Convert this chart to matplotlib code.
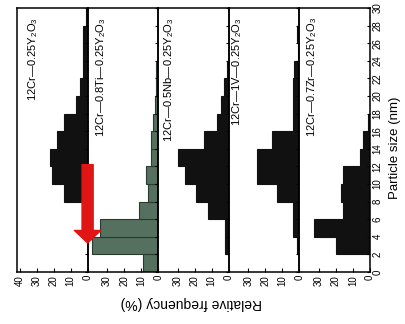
import matplotlib
matplotlib.use('Agg')
import matplotlib.pyplot as plt

# ---------------- data ----------------
size_bins = [0, 2, 4, 6, 8, 10, 12, 14, 16, 18, 20, 22, 24, 26, 28]   # lower bin edges (nm)
bin_width = 2
panel_labels = [r'12Cr—0.25Y$_2$O$_3$',
                r'12Cr—0.8Ti—0.25Y$_2$O$_3$',
                r'12Cr—0.5Nb—0.25Y$_2$O$_3$',
                r'12Cr—1V—0.25Y$_2$O$_3$',
                r'12Cr—0.7Zr—0.25Y$_2$O$_3$']
freq_y2o3 = [0, 0, 0, 0, 14, 21, 22, 18, 14, 7, 4.7, 2.5, 2.5, 2.5, 1]
freq_ti   = [9, 39, 34, 11, 6, 7, 4, 4, 3, 2, 1.5, 1, 0, 0, 0]
freq_nb   = [0, 2.4, 2.4, 12, 19, 26, 30, 14.7, 7, 4.7, 3, 1.2, 0, 0, 0]
freq_v    = [0, 1.5, 4, 4, 13, 25, 25, 16, 4, 4, 4, 3, 1, 1.5, 0]
freq_zr   = [0, 20, 33, 16, 17, 16, 6, 4, 1, 0, 0, 0, 0, 0, 0]
panel_freqs = [freq_y2o3, freq_ti, freq_nb, freq_v, freq_zr]
panel_colors = ['#111111', '#56705f', '#111111', '#111111', '#111111']
panel_edges = ['#111111', '#2a3a30', '#111111', '#111111', '#111111']
freq_ticks_first = [40, 30, 20, 10, 0]
freq_ticks_other = [30, 20, 10, 0]
size_ticks = list(range(0, 31, 2))
arrow_start_size = 12.2
arrow_end_size = 3.3

# ---------------- figure ----------------
plt.rcParams['font.family'] = ['Liberation Sans', 'DejaVu Sans']
plt.rcParams['mathtext.fontset'] = 'custom'
plt.rcParams['mathtext.rm'] = 'Liberation Sans'
plt.rcParams['mathtext.it'] = 'Liberation Sans:italic'
W, H = 406, 324
fig = plt.figure(figsize=(W / 100, H / 100), dpi=100)
left_px, right_px, top_px, bottom_px = 17, 370, 8, 272
axes = fig.subplots(1, 5, sharey=True, gridspec_kw={'wspace': 0})
fig.subplots_adjust(left=left_px / W, right=right_px / W,
                    top=1 - top_px / H, bottom=1 - bottom_px / H)

label_xfrac = [0.23, 0.19, 0.15, 0.12, 0.18]

for i, ax in enumerate(axes):
    ax.patch.set_visible(False)
    ax.barh(size_bins, panel_freqs[i], height=bin_width, align='edge',
            color=panel_colors[i], edgecolor=panel_edges[i], linewidth=0.8)
    ax.set_xlim(41.5, 0)
    ax.set_ylim(0, 30)
    ticks = freq_ticks_first if i == 0 else freq_ticks_other
    ax.set_xticks(ticks)
    ax.set_xticklabels([str(t) for t in ticks], rotation=90, fontsize=7)
    ax.tick_params(axis='x', direction='in', length=3, width=0.8, pad=2)
    ax.yaxis.tick_right()
    ax.set_yticks(size_ticks)
    ax.tick_params(axis='y', direction='in', length=2.5, width=0.8,
                   labelright=(i == 4), labelleft=False, pad=2)
    for s in ax.spines.values():
        s.set_linewidth(1.1)
    ax.text(label_xfrac[i], 0.965, panel_labels[i], rotation=90,
            ha='center', va='top', fontsize=8, transform=ax.transAxes)

for lab in axes[4].get_yticklabels():
    lab.set_rotation(90)
    lab.set_fontsize(7)
    lab.set_va('center')

# red arrow (drawn above all panels)
axes[0].set_zorder(5)
axes[0].annotate('', xy=(0, arrow_end_size), xytext=(0, arrow_start_size),
                 xycoords='data', textcoords='data', annotation_clip=False,
                 arrowprops=dict(arrowstyle='simple,head_length=0.9,head_width=1.9,tail_width=0.8',
                                 color='#e01515', mutation_scale=10,
                                 shrinkA=0, shrinkB=0), zorder=10)

fig.text(395 / W, 1 - 148 / H, 'Particle size (nm)', rotation=90,
         ha='center', va='center', fontsize=9.5)
fig.text(191 / W, 1 - 303 / H, 'Relative frequency (%)', rotation=180,
         ha='center', va='center', fontsize=10)

fig.savefig('out.png', dpi=100, facecolor='white')
